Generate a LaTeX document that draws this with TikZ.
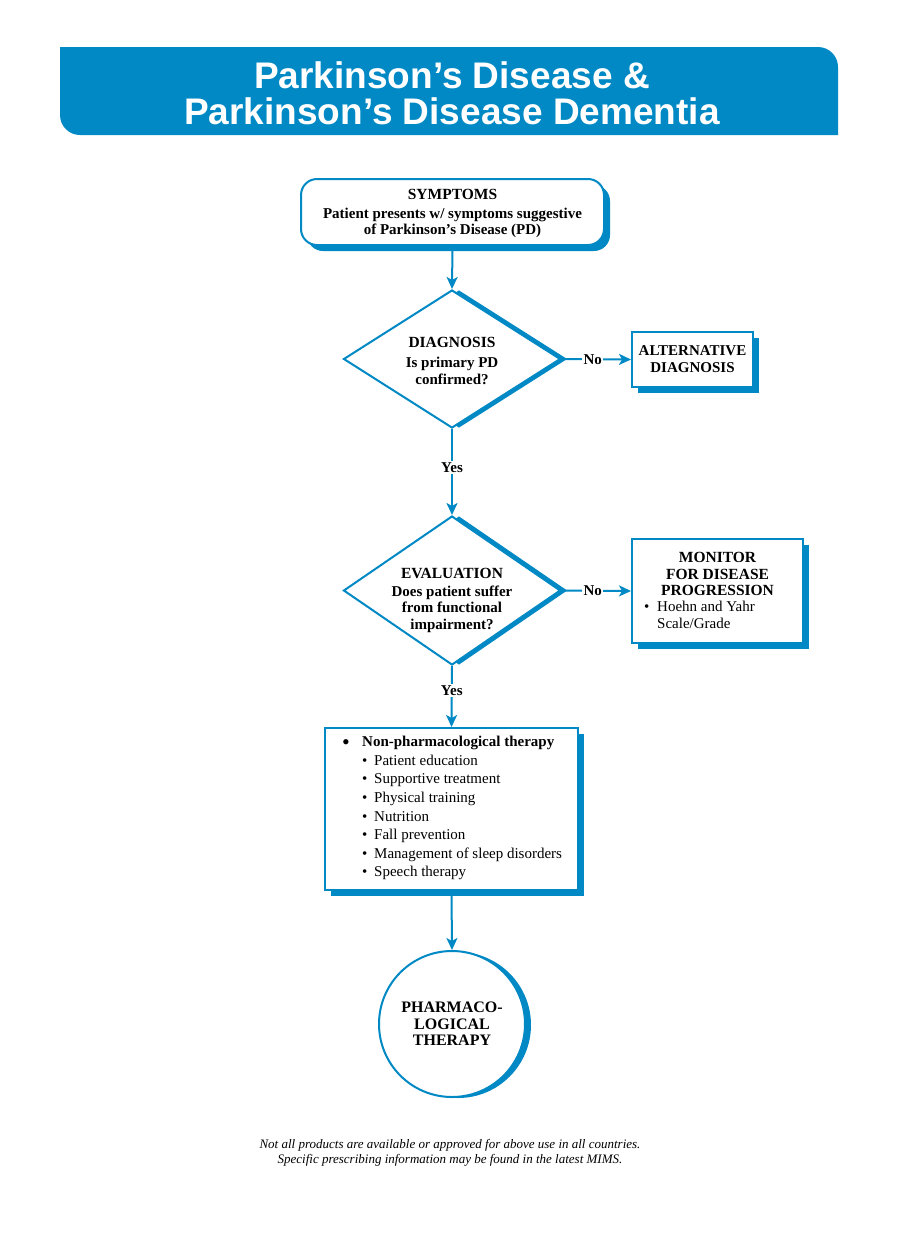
\documentclass[tikz,border=0pt]{standalone}
\usepackage{fontspec}
\setmainfont{Liberation Serif}
\newfontfamily\headfont{Liberation Sans}
\usetikzlibrary{shapes.geometric,shadows,arrows.meta}
\definecolor{mimsblue}{RGB}{0,137,196}
\tikzset{
  x=1pt, y=-1pt,
  outline/.style={draw=mimsblue, line width=2pt, fill=white},
  boxshadow/.style={drop shadow={shadow xshift=6pt, shadow yshift=-6pt, fill=mimsblue, opacity=1}},
  diashadow/.style={drop shadow={shadow xshift=7pt, shadow yshift=0pt, fill=mimsblue, opacity=1}},
  circshadow/.style={drop shadow={shadow xshift=6pt, shadow yshift=-1pt, fill=mimsblue, opacity=1}},
  conn/.style={draw=mimsblue, line width=2pt, -{Stealth[length=12pt,width=11pt,inset=3pt]}},
  lbl/.style={fill=white, inner sep=1.5pt, font=\fontsize{15}{16}\selectfont\bfseries, text=black},
  boldtxt/.style={font=\fontsize{15}{16.5}\selectfont\bfseries, align=center, text=black},
  titletxt/.style={font=\fontsize{15}{17}\selectfont\bfseries, align=center, text=black},
}
\begin{document}
\begin{tikzpicture}
\useasboundingbox (0,0) rectangle (900,1240);
\fill[white] (0,0) rectangle (900,1240);
% header
\fill[mimsblue] (60,47) -- (818,47) arc[start angle=-90, end angle=0, radius=20] -- (838,135) -- (80,135) arc[start angle=90, end angle=180, radius=20] -- cycle;
\node (title) [text=white, font=\headfont\bfseries\fontsize{37}{37}\selectfont, align=center] at (452,93.5) {Parkinson’s Disease \&\\[-0.5pt]Parkinson’s Disease Dementia};

% symptoms
\node (sym) [outline, boxshadow, rounded corners=16pt, minimum width=303pt, minimum height=66pt] at (452.5,212) {};
\node (symt) [titletxt, font=\fontsize{15.5}{17}\selectfont\bfseries] at (452.5,194) {SYMPTOMS};
\node (symb) [boldtxt] at (452.5,223) {Patient presents w/ symptoms suggestive\\of Parkinson’s Disease (PD)};

% diagnosis
\node (diag) [outline, diashadow, diamond, inner sep=0pt, shape aspect=1.6, minimum width=217pt, minimum height=138pt] at (452,359) {};
\node (diagt) [titletxt, font=\fontsize{15.5}{17}\selectfont\bfseries] at (452,342) {DIAGNOSIS};
\node (diagb) [boldtxt] at (452,371) {Is primary PD\\confirmed?};

% alternative
\node (alt) [outline, boxshadow, minimum width=121pt, minimum height=55pt, titletxt] at (692.5,359.5) {ALTERNATIVE\\DIAGNOSIS};

% evaluation
\node (eval) [outline, diashadow, diamond, inner sep=0pt, shape aspect=1.6, minimum width=217pt, minimum height=149pt] at (452,590.5) {};
\node (evalt) [titletxt, font=\fontsize{15.5}{17}\selectfont\bfseries] at (452,573) {EVALUATION};
\node (evalb) [boldtxt] at (452,609) {Does patient suffer\\from functional\\impairment?};

% monitor
\node (mon) [outline, boxshadow, minimum width=171pt, minimum height=104pt] at (717.5,591) {};
\node (mont) [titletxt, font=\fontsize{15.5}{16.5}\selectfont\bfseries] at (717.5,574) {MONITOR\\FOR DISEASE\\PROGRESSION};
\node (monb) [anchor=north west, align=left, font=\fontsize{15}{17}\selectfont, text=black, inner sep=0pt] at (644,601) {\makebox[13pt][l]{\textbullet}Hoehn and Yahr\\\hspace*{13pt}Scale/Grade};

% therapy
\node (ther) [outline, boxshadow, minimum width=253pt, minimum height=162pt] at (451.5,809) {};
\node (thert) [anchor=north west, align=left, font=\fontsize{15}{18.6}\selectfont, text=black, inner sep=0pt] at (342,736) {%
\makebox[20pt][l]{\raisebox{-2.5pt}{\fontsize{22}{18.6}\selectfont\textbullet}}\textbf{Non-pharmacological therapy}\\
\hspace*{20pt}\makebox[12pt][l]{\textbullet}Patient education\\
\hspace*{20pt}\makebox[12pt][l]{\textbullet}Supportive treatment\\
\hspace*{20pt}\makebox[12pt][l]{\textbullet}Physical training\\
\hspace*{20pt}\makebox[12pt][l]{\textbullet}Nutrition\\
\hspace*{20pt}\makebox[12pt][l]{\textbullet}Fall prevention\\
\hspace*{20pt}\makebox[12pt][l]{\textbullet}Management of sleep disorders\\
\hspace*{20pt}\makebox[12pt][l]{\textbullet}Speech therapy};

% pharmacological
\node (pharm) [outline, circshadow, circle, minimum size=146pt, inner sep=0pt, titletxt, font=\fontsize{16}{16.5}\selectfont\bfseries] at (452,1024) {PHARMACO-\\LOGICAL\\THERAPY};

% connectors
\draw[conn] (sym.south) -- (diag.north);
\draw[conn] (diag.east) -- node[lbl, pos=0.45] {No} (alt.west);
\draw[conn] (diag.south) -- node[lbl, pos=0.45] {Yes} (eval.north);
\draw[conn] (eval.east) -- node[lbl, pos=0.45] {No} (mon.west);
\draw[conn] (eval.south) -- node[lbl, pos=0.4] {Yes} (ther.north);
\draw[conn] (ther.south) -- (pharm.north);

% footnote
\node (foot) [font=\fontsize{13}{15}\selectfont\itshape, align=center, text=black] at (450,1152.5) {Not all products are available or approved for above use in all countries.\\Specific prescribing information may be found in the latest MIMS.};
\end{tikzpicture}
\end{document}
